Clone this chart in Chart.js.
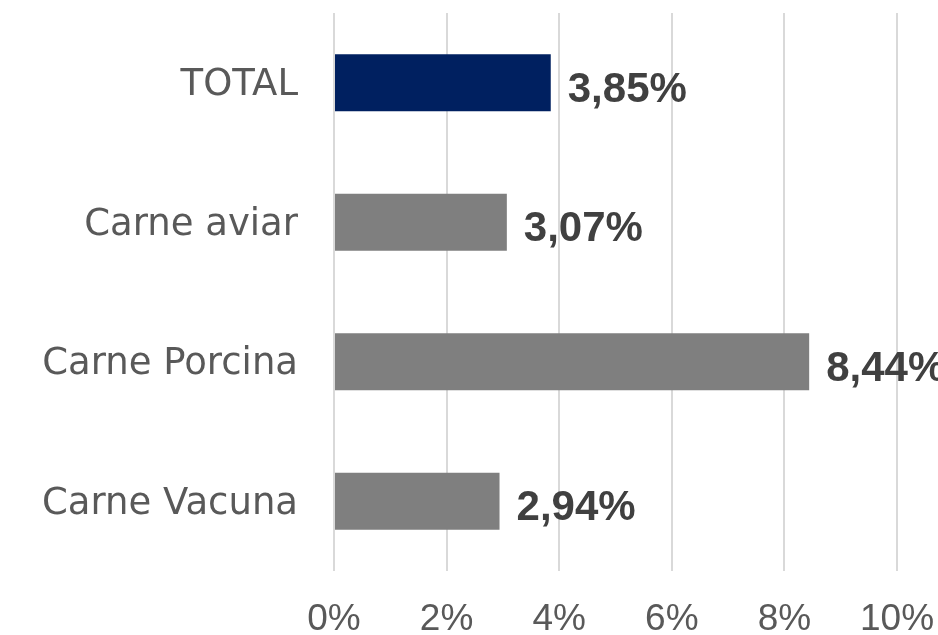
<!DOCTYPE html>
<html>
<head>
<meta charset="utf-8">
<script src="https://cdn.jsdelivr.net/npm/chart.js@4/dist/chart.umd.min.js"></script>
<style>
    html, body { margin: 0; padding: 0; background: #ffffff; }
    #wrap { width: 938px; height: 635px; position: relative; }
</style>
</head>
<body>
<div id="wrap"><canvas id="chart"></canvas></div>
<script>
// Data
const categories = ['TOTAL', 'Carne aviar', 'Carne Porcina', 'Carne Vacuna'];
const values = [3.85, 3.07, 8.44, 2.94];
const barColors = ['#002060', '#7f7f7f', '#7f7f7f', '#7f7f7f'];
const xTicks = [0, 2, 4, 6, 8, 10];

// Value labels next to each bar
const valueLabels = {
    id: 'valueLabels',
    afterDatasetsDraw(chart) {
        const ctx = chart.ctx;
        const meta = chart.getDatasetMeta(0);
        ctx.save();
        ctx.font = 'bold 42px "Liberation Sans", sans-serif';
        ctx.fillStyle = '#404040';
        ctx.textAlign = 'left';
        ctx.textBaseline = 'alphabetic';
        meta.data.forEach((bar, i) => {
            const text = values[i].toFixed(2).replace('.', ',') + '%';
            ctx.fillText(text, bar.x + 17, bar.y + 19);
        });
        ctx.restore();
    }
};

const ctx = document.getElementById('chart').getContext('2d');
new Chart(ctx, {
    type: 'bar',
    data: {
        labels: categories,
        datasets: [{
            data: values,
            backgroundColor: barColors,
            borderWidth: 0,
            barPercentage: 0.41,
            categoryPercentage: 1
        }]
    },
    options: {
        indexAxis: 'y',
        responsive: true,
        maintainAspectRatio: false,
        animation: false,
        layout: {
            padding: { top: 13, right: 41, bottom: 0, left: 0 }
        },
        scales: {
            x: {
                min: 0,
                max: 10,
                afterBuildTicks(scale) {
                    scale.ticks = xTicks.map(v => ({ value: v }));
                },
                afterFit(scale) {
                    scale.height = 64;
                    scale.paddingLeft = 0;
                    scale.paddingRight = 0;
                },
                grid: {
                    color: '#d9d9d9',
                    lineWidth: 2,
                    drawTicks: false
                },
                border: { display: false },
                ticks: {
                    padding: 27,
                    color: '#595959',
                    font: { family: '"Liberation Sans", sans-serif', size: 37 },
                    callback: (v) => v + '%'
                }
            },
            y: {
                afterFit(scale) {
                    scale.width = 334;
                    scale.paddingTop = 0;
                    scale.paddingBottom = 0;
                },
                grid: { display: false },
                border: { display: false },
                ticks: {
                    padding: 28,
                    labelOffset: 3,
                    color: '#595959',
                    font: { family: '"DejaVu Sans", sans-serif', size: 37 }
                }
            }
        },
        plugins: {
            legend: { display: false },
            tooltip: { enabled: false }
        }
    },
    plugins: [valueLabels]
});
</script>
</body>
</html>
